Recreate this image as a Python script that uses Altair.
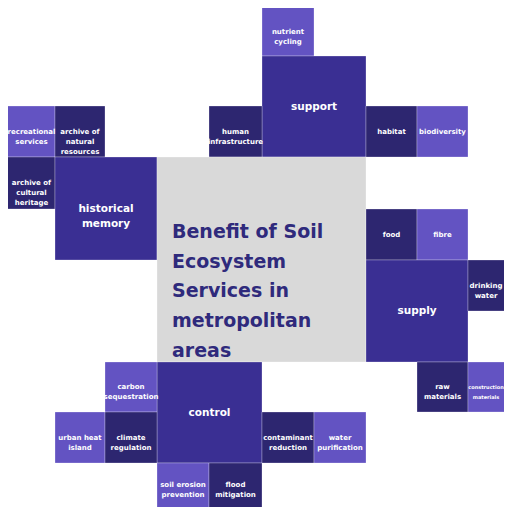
import altair as alt
import pandas as pd

# grid edges (page pixels) of the tile layout
col_edges = [5, 55, 105, 157, 209, 262, 314, 366, 417, 468, 520]
row_edges = [5, 56, 106, 157, 209, 260, 311, 362, 412, 463, 514]

labels = [
    "nutrient\ncycling", "support", "human\ninfrastructure", "habitat", "biodiversity",
    "recreational\nservices", "archive of\nnatural\nresources", "archive of\ncultural\nheritage",
    "historical\nmemory", "", "food", "fibre", "supply", "drinking\nwater",
    "raw\nmaterials", "construction\nmaterials", "control", "carbon\nsequestration",
    "urban heat\nisland", "climate\nregulation", "soil erosion\nprevention", "flood\nmitigation",
    "contaminant\nreduction", "water\npurification",
]
col0 = [5, 5, 4, 7, 8, 0, 1, 0, 1, 3, 7, 8, 7, 9, 8, 9, 3, 2, 1, 2, 3, 4, 5, 6]
col1 = [6, 7, 5, 8, 9, 1, 2, 1, 3, 7, 8, 9, 9, 10, 9, 10, 5, 3, 2, 3, 4, 5, 6, 7]
row0 = [0, 1, 2, 2, 2, 2, 2, 3, 3, 3, 4, 4, 5, 5, 7, 7, 7, 7, 8, 8, 9, 9, 8, 8]
row1 = [1, 3, 3, 3, 3, 3, 3, 4, 5, 7, 5, 5, 7, 6, 8, 8, 9, 8, 9, 9, 10, 10, 9, 9]
tone = ["light", "main", "dark", "dark", "light", "light", "dark", "dark", "main", "center",
        "dark", "light", "main", "dark", "dark", "light", "main", "light", "light", "dark",
        "light", "dark", "dark", "light"]

title_lines = ["Benefit of Soil", "Ecosystem", "Services in", "metropolitan", "areas"]
title_x = 172
title_y0 = 238
title_step = 29.7

tones = ["main", "dark", "light", "center"]
tone_colors = ["#3a2f93", "#2d2670", "#6353c2", "#d9d9d9"]

W, H = 496, 499
X_MIN, X_MAX = 8, 8 + W
Y_MIN, Y_MAX = 8, 8 + H

blocks = pd.DataFrame({
    "label": labels,
    "x": [col_edges[c] for c in col0],
    "x2": [col_edges[c] for c in col1],
    "y": [row_edges[r] for r in row0],
    "y2": [row_edges[r] for r in row1],
    "tone": tone,
})
# label at the centre of the visible part of each tile
blocks["cx"] = (blocks["x"].clip(lower=X_MIN) + blocks["x2"].clip(upper=X_MAX)) / 2
blocks["cy"] = (blocks["y"].clip(lower=Y_MIN) + blocks["y2"].clip(upper=Y_MAX)) / 2
blocks["size"] = blocks["tone"].map(lambda t: "big" if t == "main" else "small")
# small tile labels: 7px, shrunk only where the tile is cut by the page edge
blocks["fs"] = 7.0
blocks.loc[blocks["label"] == "construction\nmaterials", "fs"] = 5.0

titles = pd.DataFrame({
    "line": title_lines,
    "x": [title_x] * len(title_lines),
    "y": [title_y0 + i * title_step for i in range(len(title_lines))],
})

xs = alt.Scale(domain=[X_MIN, X_MAX], range=[0, W])
ys = alt.Scale(domain=[Y_MIN, Y_MAX], range=[0, H])

rects = alt.Chart(blocks).mark_rect(stroke="white", strokeWidth=0.6, strokeOpacity=0.45).encode(
    x=alt.X("x:Q", scale=xs, axis=None),
    x2="x2:Q",
    y=alt.Y("y:Q", scale=ys, axis=None),
    y2="y2:Q",
    color=alt.Color("tone:N", scale=alt.Scale(domain=tones, range=tone_colors), legend=None),
)

small = alt.Chart(blocks[(blocks["size"] == "small") & (blocks["tone"] != "center")]).mark_text(
    font="DejaVu Sans", fontWeight="bold", color="white",
    lineBreak="\n", lineHeight=10, align="center", baseline="middle",
).encode(
    x=alt.X("cx:Q", scale=xs, axis=None),
    y=alt.Y("cy:Q", scale=ys, axis=None),
    size=alt.Size("fs:Q", scale=None, legend=None),
    text="label:N",
)

big = alt.Chart(blocks[blocks["size"] == "big"]).mark_text(
    font="DejaVu Sans", fontWeight="bold", fontSize=10.5, color="white",
    lineBreak="\n", lineHeight=15, align="center", baseline="middle",
).encode(
    x=alt.X("cx:Q", scale=xs, axis=None),
    y=alt.Y("cy:Q", scale=ys, axis=None),
    text="label:N",
)

title = alt.Chart(titles).mark_text(
    font="DejaVu Sans", fontWeight="bold", fontSize=19, color="#2f2a7c",
    align="left", baseline="alphabetic",
).encode(
    x=alt.X("x:Q", scale=xs, axis=None),
    y=alt.Y("y:Q", scale=ys, axis=None),
    text="line:N",
)

chart = alt.layer(rects, small, big, title).properties(
    width=W, height=H, padding=0, autosize=alt.AutoSizeParams(type="none"),
    background="white",
).configure_view(stroke=None)

chart.save("out.html", embed_options={"renderer": "svg", "actions": False})
